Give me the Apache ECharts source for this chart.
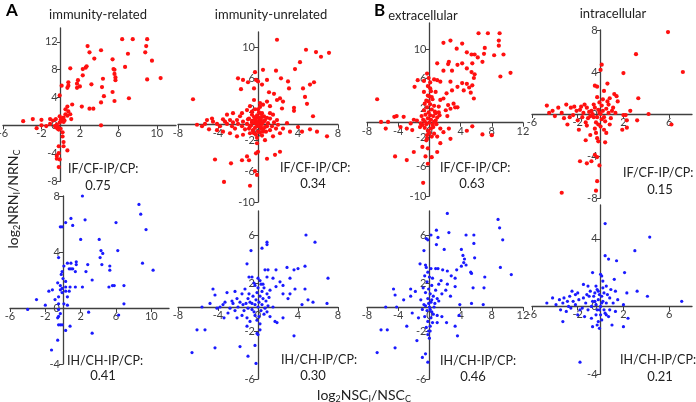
<!DOCTYPE html>
<html>
<head>
<meta charset="utf-8">
<script src="https://cdn.jsdelivr.net/npm/echarts@6/dist/echarts.min.js"></script>
<style>
html, body { margin: 0; padding: 0; background: #fff; }
#chart { width: 696px; height: 402px; }
</style>
</head>
<body>
<div id="chart"></div>
<script>
// log2 NSC ratio (x) vs log2 NRN ratio (y)
const relatedIF = [[2.8,11.4],[3.0,10.5],[4.2,10.8],[6.4,12.4],[7.5,12.4],[9.0,12.4],[8.9,11.4],[8.8,10.5],[7.0,10.3],[9.5,9.3],[5.4,9.5],[3.5,9.6],[6.7,8.4],[5.5,8.1],[5.6,8.0],[5.6,7.4],[5.7,6.9],[5.7,6.5],[9.0,6.6],[10.4,6.8],[4.4,6.7],[4.3,5.5],[2.6,8.3],[2.7,8.5],[2.3,8.1],[2.3,7.2],[1.0,8.2],[3.2,5.9],[1.8,6.5],[1.7,6.0],[1.7,5.4],[0.8,6.2],[0.8,5.7],[0.7,5.4],[0.1,5.7],[2.0,5.6],[-0.1,4.3],[4.5,4.2],[5.4,4.8],[7.1,3.9],[5.6,3.5],[4.2,3.3],[2.2,2.7],[3.0,2.4],[3.4,2.4],[1.2,3.0],[0.7,2.7],[0.8,2.0],[0.5,2.3],[0.5,1.6],[0.7,1.4],[1.0,1.6],[1.1,0.9],[0.3,1.1],[-0.1,1.3],[0.1,0.6],[0.2,0.9],[0.3,0.5],[0.0,0.8],[0.2,1.0],[0.4,0.7],[-0.1,0.4],[-0.5,0.9],[-0.8,0.7],[-1.1,0.9],[-2.0,0.8],[-2.9,0.9],[-3.9,0.6],[-2.5,-0.4],[-2.0,0.0],[-0.3,-0.2],[-0.2,-0.4],[0.0,-0.5],[-0.3,-0.5],[-0.5,-0.3],[-0.2,-0.6],[-0.6,-0.1],[-0.4,0.1],[-1.1,0.2],[-1.5,-0.1],[0.2,-1.0],[0.2,-1.6],[4.2,0.0],[-0.2,-3.0],[-0.2,-4.0],[-0.4,-4.4],[-0.1,-4.9],[0.7,-3.6],[0.3,-3.0],[-0.4,-4.8],[-0.2,-6.0],[0.3,-2.4]];

const unrelatedIF = [[1.9,11.0],[4.8,9.7],[5.8,9.4],[6.3,8.8],[7.1,9.3],[4.2,8.1],[3.7,7.2],[-0.3,6.8],[0.5,7.1],[1.8,7.0],[2.3,6.0],[3.0,5.6],[3.1,4.7],[4.5,4.7],[5.2,5.2],[5.6,5.5],[4.7,3.6],[4.9,2.7],[5.5,1.1],[3.6,2.2],[3.6,1.8],[-2.0,6.0],[-1.5,5.8],[-1.7,4.6],[-1.0,5.5],[-0.2,5.8],[0.0,5.6],[0.4,5.2],[0.9,5.8],[1.1,4.2],[-0.4,4.7],[-0.4,3.2],[-6.5,3.3],[1.6,4.0],[1.9,3.2],[2.2,3.4],[2.5,3.0],[2.4,2.1],[1.2,2.4],[0.9,3.0],[0.5,2.6],[0.2,2.8],[-0.8,2.4],[-1.1,1.9],[1.5,1.3],[1.9,0.6],[2.9,0.2],[2.5,-0.5],[3.2,-0.9],[2.2,-1.1],[4.0,-0.3],[4.4,-0.9],[5.9,-0.9],[6.9,-1.5],[5.2,-0.6],[1.2,-0.7],[1.5,-1.5],[0.7,-2.0],[-0.1,-2.4],[0.0,-3.5],[-0.2,-3.7],[1.7,-3.9],[2.2,-3.5],[0.9,-4.4],[-1.1,-4.1],[-0.9,-4.6],[-1.6,-4.6],[-2.7,-5.0],[-4.3,-4.5],[-3.4,-7.4],[-0.8,-7.9],[-0.3,-6.0],[-0.1,-6.5],
  [-5.6,-0.2],[-5.3,0.1],[-4.6,0.8],[-4.5,0.4],[-4.1,0.1],[-3.8,-0.2],[-3.5,0.7],[-3.3,0.4],[-3.1,0.1],[-2.8,0.6],[-2.6,-0.2],[-2.5,0.3],[-2.3,-0.5],[-2.1,0.6],[-2.0,0.1],[-1.8,1.1],[-1.6,-0.2],[-1.5,0.4],[-1.3,-0.6],[-1.1,0.1],[-1.0,0.7],[-0.8,-0.2],[-0.6,0.3],[-0.5,-0.7],[-0.3,0.2],[-0.2,0.8],[-0.1,-0.2],[0.1,0.5],[0.3,-0.5],[0.4,0.1],[0.5,-0.9],[0.7,0.6],[0.9,-0.2],[1.0,0.2],[1.2,0.8],[1.4,-0.2],[1.6,0.3],[1.8,-0.5],[2.0,0.0],[-0.8,-1.1],[-1.5,-1.3],[-2.1,-1.5],[-2.8,-1.1],[-3.5,-0.9],[-4.1,-0.7],[-4.9,-0.6],[-5.1,0.6],[-6.1,0.0],[-3.1,1.3],[-2.5,1.5],[-1.6,1.5],[-0.6,1.7],[0.4,1.5],[1.2,1.5],
  [0.0,0.0],[0.2,0.3],[-0.2,0.4],[0.3,-0.3],[-0.3,-0.4],[0.1,0.9],[-0.1,1.2],[0.4,1.0],[-0.4,1.0],[0.5,-0.6],[-0.5,-0.8],[0.2,-1.0],[-0.2,-1.3],[0.6,0.4],[-0.6,0.5],[0.1,1.6],[-0.1,-1.7],[0.3,1.4],[0.7,-0.3],[-0.7,-0.1],[0.0,2.0],[0.2,2.3],[-0.3,2.0],[0.6,1.1],[-0.6,1.3],[0.0,-0.9],[0.4,-1.4],[-0.4,-1.1],[0.9,0.9],[-0.9,0.8],[0.8,-0.9],[-0.9,-0.5],[0.1,-0.2],[-0.1,0.2],[0.3,0.6],[-0.3,0.7]];

const extraIF = [[6.3,12.2],[7.5,12.2],[9.0,12.2],[8.9,11.2],[1.8,10.9],[2.7,11.2],[4.2,10.8],[3.5,10.1],[4.8,9.6],[5.4,9.3],[5.8,9.3],[7.1,10.2],[7.0,9.4],[6.2,8.9],[6.8,8.3],[8.3,9.2],[9.5,9.3],[8.9,10.5],[1.0,8.1],[2.5,8.3],[2.4,8.0],[3.6,7.9],[4.2,8.1],[4.8,7.4],[5.5,8.1],[5.4,6.9],[1.8,7.1],[2.9,7.1],[5.8,6.6],[5.7,6.1],[-0.3,6.7],[-0.1,6.1],[0.6,5.9],[1.0,5.8],[-0.7,5.7],[-1.5,5.8],[-1.9,4.9],[1.4,5.6],[2.7,5.6],[4.2,5.4],[4.8,5.3],[5.5,5.1],[5.1,4.8],[4.4,4.4],[5.3,4.1],[5.7,3.3],[3.6,4.9],[2.9,4.4],[2.2,4.0],[1.8,3.3],[1.4,3.1],[0.8,4.2],[0.3,3.5],[-0.2,3.7],[-0.7,4.2],[0.1,4.7],[3.1,2.6],[3.3,2.1],[3.6,2.1],[2.4,2.4],[2.1,1.7],[2.7,1.9],[1.2,2.2],[0.8,1.3],[1.3,1.0],[2.3,0.9],[-6.7,3.2],[-6.2,0.1],[-5.3,0.1],[-5.6,-0.8],[-4.5,0.8],[-4.2,0.9],[-3.3,0.8],[-3.7,-0.6],[-2.9,-0.8],[-2.4,-0.1],[-2.0,0.4],[-2.2,-1.0],[-1.6,0.3],[-1.2,-0.6],[-4.4,-4.6],[-2.9,-5.1],[-2.0,-4.0],[-0.9,-3.3],[-0.4,-2.4],[-0.2,-3.5],[-0.5,-4.6],[-0.2,-5.6],[-0.8,-8.2],[1.0,-4.0],[0.3,-4.7],[1.4,-2.8],[2.7,-2.2],[4.8,-1.1],[6.8,-1.6],[8.0,-1.7],[5.5,-0.5],[1.4,-0.8],[1.8,-1.3],[2.5,-0.8],[1.0,-1.9],[0.6,-1.5],[-0.3,-1.7],[10.4,6.8],[9.1,6.3],
  [0.0,0.0],[0.2,0.4],[-0.2,0.6],[0.4,-0.3],[-0.4,-0.2],[0.1,1.0],[-0.1,1.4],[0.5,0.9],[-0.5,1.1],[0.3,1.8],[-0.3,2.1],[0.1,2.5],[-0.1,2.9],[0.6,2.3],[-0.6,2.6],[0.2,-0.8],[-0.2,-1.1],[0.5,-0.6],[-0.6,-0.7],[0.8,0.3],[-0.8,0.4],[1.0,0.7],[-1.0,0.9],[0.0,-1.4],[0.3,-1.9],[-0.3,-2.2],[0.7,1.5],[-0.7,1.7],[0.4,3.2],[-0.4,3.0],[0.0,3.6],[0.2,4.3],[-0.2,5.0],[0.1,5.5],[0.9,-0.2],[-0.9,-0.3],[0.6,0.1],[-0.6,0.2],[1.2,1.4],[-1.1,-0.1]];

const intraIF = [[5.9,7.8],[3.1,5.7],[7.2,4.0],[2.0,3.9],[0.1,4.7],[0.0,4.2],[-0.5,2.7],[-0.3,2.6],[0.6,2.9],[0.3,2.2],[1.2,1.9],[1.4,1.7],[0.8,1.5],[3.3,1.5],[2.0,-0.1],[4.2,0.0],[6.2,-1.0],[2.3,-0.6],[3.2,-0.6],[2.6,0.3],[2.3,-1.3],[-4.7,0.8],[-4.5,0.1],[-4.2,0.3],[-4.0,-0.2],[-3.7,0.6],[-3.4,0.1],[-3.2,-0.4],[-3.0,0.9],[-2.9,-1.0],[-2.6,0.6],[-2.4,-0.1],[-2.1,0.3],[-2.0,-0.6],[-1.7,0.7],[-1.5,0.1],[-1.3,-0.8],[-1.2,0.6],[-0.9,-0.2],[-0.8,0.3],[-0.6,0.9],[-1.2,-1.1],[-1.9,-1.5],[-1.3,-2.5],[-0.3,-2.3],[-0.2,-2.6],[0.4,-2.7],[-0.4,-1.8],[-0.9,-2.0],[-1.8,-4.5],[-1.2,-4.7],[-0.8,-4.5],[-0.5,-3.9],[-0.3,-4.1],[-0.1,-4.9],[-0.3,-6.4],[-0.4,-7.3],[-3.4,-7.5],[1.9,-1.5],[1.1,0.6],[0.7,0.9],[1.5,1.2],[2.2,-0.1],
  [0.0,0.0],[0.2,0.3],[-0.2,0.4],[0.3,-0.3],[-0.3,-0.3],[0.1,0.8],[-0.1,1.1],[0.5,0.5],[-0.5,0.6],[0.4,-0.7],[-0.4,-0.8],[0.0,-1.2],[0.7,0.1],[-0.7,0.0],[0.9,-0.4],[-1.0,0.2],[0.2,1.4],[-0.3,1.6],[0.6,1.2],[-0.6,-0.3],[0.3,-1.5],[-0.2,-1.0],[1.0,0.3],[-1.1,-0.4],[-1.6,-0.3],[-1.8,0.4],[-2.3,0.7],[-2.7,-0.3],[-1.4,0.9],[0.8,-1.0],[1.3,0.1],[-0.1,0.1],[0.1,-0.5],[-0.5,-1.4],[0.5,-1.8]];

const relatedIH = [[2.2,8.0],[8.6,7.4],[8.8,6.7],[-0.3,5.8],[-0.1,5.8],[0.3,6.1],[0.9,6.4],[1.1,5.9],[2.5,6.3],[6.0,6.1],[9.4,5.6],[2.0,4.9],[4.1,4.9],[4.3,4.1],[4.5,3.9],[6.2,4.1],[4.2,3.6],[4.4,3.1],[-0.5,3.6],[0.1,3.0],[0.5,3.2],[0.9,3.2],[1.5,3.3],[1.5,3.1],[2.8,3.1],[5.3,3.0],[5.3,2.7],[9.0,3.2],[10.2,2.7],[0.7,2.8],[0.9,2.8],[1.1,2.8],[1.4,2.6],[2.6,2.6],[-0.1,2.6],[-0.2,2.4],[0.0,2.1],[3.3,2.0],[0.3,1.9],[-0.6,1.8],[-1.2,1.3],[-1.6,1.2],[-0.3,1.6],[-0.1,1.4],[0.3,1.5],[0.8,1.5],[1.4,1.5],[2.2,1.5],[5.2,1.5],[5.6,1.6],[5.8,1.6],[6.9,1.6],[6.9,0.3],[-0.3,1.3],[-0.1,1.1],[0.3,1.2],[0.7,1.2],[0.5,0.8],[-0.5,0.8],[-0.9,0.6],[-0.5,0.3],[0.1,0.3],[0.5,0.2],[-4.0,-0.1],[-3.0,0.6],[-2.0,0.2],[-0.5,-0.1],[-0.3,-0.4],[-0.5,-0.6],[-0.6,-0.7],[-0.3,-1.2],[-0.5,-1.2],[-0.1,-1.2],[0.3,-1.6],[0.8,-1.3],[2.9,-0.3],[6.3,-0.5],[3.3,-1.8],[-0.6,-2.3],[-1.3,-3.0]];

const unrelatedIH = [[4.8,6.0],[5.7,5.4],[0.9,5.4],[0.9,5.2],[0.4,4.9],[-0.7,4.7],[-1.1,3.6],[-0.9,2.5],[-0.6,2.5],[0.7,3.1],[1.0,3.1],[0.9,2.5],[0.2,2.2],[0.5,1.9],[1.5,2.4],[1.8,3.1],[2.9,3.3],[3.6,3.1],[4.0,3.2],[4.7,3.4],[3.2,2.4],[7.0,2.4],[2.2,2.1],[2.5,1.8],[1.8,1.7],[1.2,1.4],[0.9,1.1],[3.7,1.5],[4.7,1.5],[2.5,1.1],[3.0,0.7],[3.2,1.1],[5.5,0.4],[6.9,0.3],[5.0,0.6],[4.4,0.2],[-1.6,1.1],[-2.1,0.7],[-2.3,1.3],[-3.1,1.2],[-4.5,1.5],[-4.3,1.0],[-4.8,0.3],[-5.6,0.0],[-6.1,-1.9],[-5.3,-1.9],[-6.6,-3.8],[-4.3,-3.4],[-3.4,-0.9],[-1.8,-3.3],[-1.0,-4.1],[-0.3,-3.2],[-0.2,-4.7],[-1.1,-1.6],[-0.1,-2.2],[0.0,-2.3],[0.2,-1.9],[1.2,-0.8],[1.7,-1.2],[1.9,-1.3],[2.5,-0.9],[3.6,-2.4],[-0.8,-1.2],[-1.1,-0.9],[-1.6,-0.7],[-2.1,-0.9],[-3.0,-0.5],[-3.8,0.0],[-4.1,-0.1],[-3.5,0.2],[-2.8,-0.1],[-2.5,0.3],[-2.0,0.0],[-1.5,0.2],[-1.0,-0.1],[-0.6,0.3],[-0.3,0.2],[0.0,0.0],[0.4,0.2],[0.7,-0.1],[1.0,0.1],[1.5,0.0],
  [0.1,0.4],[-0.2,0.6],[0.3,-0.3],[-0.4,-0.4],[0.2,0.9],[-0.1,1.2],[0.5,0.7],[-0.5,0.9],[0.0,1.6],[0.3,1.9],[-0.3,1.8],[0.6,-0.6],[-0.6,-0.2],[0.1,-0.8],[-0.1,-1.1],[0.8,0.5],[-0.8,0.4],[-1.2,0.3],[-1.4,-0.3],[1.1,0.8],[-0.9,1.1],[0.4,1.3],[-0.3,-0.7],[0.2,-1.4],[-1.0,0.7],[-1.8,0.4],[-2.3,-0.3],[-2.6,0.5],[-3.3,0.4],[-1.3,1.5],[0.9,-0.4],[0.0,2.4],[-0.4,2.0],[0.6,1.6]];

const extraIH = [[2.3,7.8],[8.8,7.3],[9.0,6.6],[9.4,5.6],[0.9,6.4],[1.1,5.8],[0.2,6.0],[-0.2,5.6],[-0.4,5.7],[2.5,6.2],[4.7,6.0],[5.7,6.0],[5.7,5.3],[0.9,5.2],[1.9,4.8],[-0.7,4.7],[4.1,4.8],[4.3,4.3],[4.5,4.0],[5.8,4.1],[4.4,3.7],[4.7,3.5],[4.1,3.4],[-1.2,3.6],[-0.5,3.5],[0.8,3.2],[1.1,3.2],[1.7,3.1],[2.3,3.0],[3.5,3.1],[2.8,2.6],[9.1,3.3],[10.5,2.7],[7.1,2.5],[5.3,2.9],[5.4,2.8],[3.3,2.4],[1.5,2.2],[1.2,1.9],[2.3,1.9],[3.3,1.7],[5.6,1.6],[7.0,1.6],[2.1,1.4],[1.6,1.1],[2.7,0.9],[1.0,0.7],[3.9,0.2],[5.4,0.3],[6.9,0.2],[-4.6,1.5],[-4.4,1.0],[-3.3,0.6],[-2.4,0.9],[-1.8,1.3],[-2.4,1.5],[-5.6,0.0],[-4.2,0.0],[-6.2,-1.9],[-5.4,-1.9],[-6.7,-3.8],[-4.4,-3.4],[-2.9,-1.6],[-2.2,-0.5],[-1.4,-0.9],[-1.6,-2.8],[-0.9,-4.2],[-0.2,-4.6],[-0.5,-3.9],[-0.2,-2.3],[0.1,-2.0],[1.0,-1.3],[2.2,-1.3],[3.3,-1.6],[3.6,-2.4],[3.8,-0.7],[1.6,-0.8],[1.0,-0.7],
  [0.0,0.0],[0.2,0.4],[-0.2,0.7],[0.3,-0.4],[-0.3,-0.3],[0.1,1.1],[-0.1,1.5],[0.5,0.9],[-0.5,1.2],[0.3,1.8],[-0.3,2.1],[0.0,2.5],[-0.2,2.9],[0.4,2.4],[-0.6,2.6],[0.2,-0.9],[-0.2,-1.2],[0.5,-0.6],[-0.6,-0.8],[0.7,0.3],[-0.7,0.2],[0.1,-1.6],[-0.1,-2.0],[0.4,-1.3],[-0.4,-1.7],[0.8,1.4],[-0.8,1.6],[0.6,0.0],[-0.9,-0.2],[0.2,3.2],[-0.4,3.3],[0.1,-0.2],[-0.1,0.3],[0.3,0.6],[-0.5,0.1],[1.2,0.5],[-1.1,0.6],[0.0,-2.6]];

const intraIH = [[0.4,4.9],[4.3,4.1],[3.0,3.3],[0.4,3.0],[0.7,2.8],[1.4,2.7],[-0.7,2.0],[0.0,1.9],[0.1,1.8],[1.2,1.6],[2.1,2.0],[0.2,1.5],[-1.5,1.3],[-1.1,1.2],[-0.4,1.2],[0.5,1.2],[1.3,0.9],[2.3,0.8],[3.2,0.9],[4.1,0.6],[7.1,0.3],[-2.5,0.9],[-2.2,0.7],[-3.2,0.5],[-4.2,0.5],[-4.7,0.2],[-3.9,0.1],[-3.3,0.2],[-2.9,0.3],[-2.8,0.0],[-3.5,-0.2],[-2.6,-0.1],[-2.2,0.1],[-1.9,0.4],[-1.6,-0.1],[-1.3,0.2],[-1.0,0.6],[-0.7,0.3],[-0.5,0.8],[-0.3,1.0],[0.3,0.8],[0.8,0.5],[1.1,0.2],[1.5,0.4],[2.0,0.1],[0.8,-0.2],[0.5,-0.5],[-0.4,-0.5],[-0.8,-0.7],[-1.4,-0.6],[-2.0,-0.5],[-3.3,-0.9],[-0.7,-1.2],[-0.1,-1.3],[-0.3,-1.1],[1.0,-1.1],[2.0,-1.2],[2.4,-0.7],[-1.8,-3.3],[-0.2,-0.9],[0.1,-0.8],
  [0.0,0.0],[0.2,0.3],[-0.2,0.4],[0.3,-0.2],[-0.3,-0.2],[0.1,0.6],[-0.1,0.7],[0.5,0.2],[-0.5,0.3],[0.4,-0.4],[-0.4,0.1],[0.0,-0.5],[-0.6,0.6],[0.6,0.7],[-0.8,0.0],[-1.1,-0.2],[-1.5,0.5],[-1.8,-0.2],[-2.4,0.3],[-2.0,0.8],[0.2,1.1],[-0.2,0.9],[0.7,-0.6],[-0.9,0.9],[-1.2,0.7],[-2.7,0.6],[-3.0,-0.3],[-3.6,0.4],[1.3,-0.3],[0.9,1.0],[-0.1,-0.2],[0.1,0.2]];

const panelTitles = ['immunity-related', 'immunity-unrelated', 'extracellular', 'intracellular'];
const ratioLabels = ['0.75', '0.34', '0.63', '0.15', '0.41', '0.30', '0.46', '0.21'];

// tick labels per panel (top row then bottom row)
const xTicks = [
  [-6, -2, 2, 6, 10], [-8, -4, 0, 4, 8], [-8, -4, 0, 4, 8, 12], [-6, -2, 2, 6],
  [-6, -2, 2, 6, 10], [-8, -4, 0, 4, 8], [-8, -4, 0, 4, 8, 12], [-6, -2, 2, 6]
];
const yTicks = [
  [-8, -4, 0, 4, 8, 12], [-10, -6, -2, 2, 6, 10], [-10, -6, -2, 2, 6, 10], [-8, -4, 0, 4, 8],
  [-4, 0, 4, 8], [-6, -2, 2, 6], [-6, -2, 2, 6], [-4, 0, 4]
];
const xRange = [[-6, 12], [-8, 8], [-8, 12], [-6, 8], [-6, 12], [-8, 8], [-8, 12], [-6, 8]];
const yRange = [[-8, 14], [-10, 12], [-10, 13.6], [-8, 8], [-4, 8], [-6, 8], [-6, 8], [-4, 6]];

const seriesData = [relatedIF, unrelatedIF, extraIF, intraIF, relatedIH, unrelatedIH, extraIH, intraIH];

// pixel boxes of the plot areas
const boxes = [
  [3, 28, 173, 153], [178, 32, 160, 170], [367, 23, 156, 173], [532, 30, 160, 168],
  [10, 196, 159, 168], [178, 211, 160, 168], [367, 211, 156, 168], [532, 205, 160, 169]
];

const font = 'Lato, "Noto Sans", sans-serif';
const axisColor = '#404040';

let chart = echarts.init(document.getElementById('chart'));

let grids = [], xAxes = [], yAxes = [], series = [];
for (let i = 0; i < 8; i++) {
  let b = boxes[i];
  // axes cross at the origin: shift each axis into the plot by the offset of zero
  let xOff = -(0 - yRange[i][0]) / (yRange[i][1] - yRange[i][0]) * b[3];
  let yOff = -(0 - xRange[i][0]) / (xRange[i][1] - xRange[i][0]) * b[2];
  grids.push({ left: b[0], top: b[1], width: b[2], height: b[3], containLabel: false, outerBoundsMode: 'none' });
  xAxes.push({
    gridIndex: i, type: 'value', position: 'bottom', offset: xOff,
    min: xRange[i][0], max: xRange[i][1],
    axisLine: { onZero: false, lineStyle: { color: axisColor, width: 1.3 } },
    axisTick: { length: 4, customValues: xTicks[i], lineStyle: { color: axisColor } },
    axisLabel: { customValues: xTicks[i], margin: 3, fontSize: 11, color: axisColor, fontFamily: font },
    splitLine: { show: false }
  });
  yAxes.push({
    gridIndex: i, type: 'value', position: 'left', offset: yOff,
    min: yRange[i][0], max: yRange[i][1],
    axisLine: { onZero: false, lineStyle: { color: axisColor, width: 1.3 } },
    axisTick: { length: 4, customValues: yTicks[i], lineStyle: { color: axisColor } },
    axisLabel: { customValues: yTicks[i], margin: 3, fontSize: 11, color: axisColor, fontFamily: font },
    splitLine: { show: false }
  });
  let top = i < 4;
  series.push({
    type: 'scatter', xAxisIndex: i, yAxisIndex: i,
    data: seriesData[i],
    symbolSize: top ? 4.2 : 3.2,
    itemStyle: { color: top ? '#ff1010' : '#1a1aff', opacity: 1 },
    silent: true
  });
}

// panel titles and ratio text
const titlePos = [[98, 15], [271, 15], [423, 16], [613, 14]];
const ratioNamePos = [[68, 169], [280, 168], [440, 168], [623, 173], [67, 361], [281, 360], [440, 361], [620, 360]];
const ratioValPos = [[98, 186], [313, 184], [472, 184], [660, 190], [103, 376], [313, 376], [473, 377], [660, 377]];

let graphics = [];
graphics.push({ type: 'text', left: 6, top: 2, style: { text: 'A', font: 'bold 17px ' + font, fill: '#000' } });
graphics.push({ type: 'text', left: 374, top: 2, style: { text: 'B', font: 'bold 17px ' + font, fill: '#000' } });
for (let i = 0; i < 4; i++) {
  graphics.push({ type: 'text', x: titlePos[i][0], y: titlePos[i][1],
    style: { text: panelTitles[i], font: '13px ' + font, fill: '#222', align: 'center', verticalAlign: 'middle' } });
}
for (let i = 0; i < 8; i++) {
  graphics.push({ type: 'text', x: ratioNamePos[i][0], y: ratioNamePos[i][1],
    style: { text: i < 4 ? 'IF/CF-IP/CP:' : 'IH/CH-IP/CP:', font: '12.5px ' + font, fill: '#222', align: 'left', verticalAlign: 'middle' } });
  graphics.push({ type: 'text', x: ratioValPos[i][0], y: ratioValPos[i][1],
    style: { text: ratioLabels[i], font: '13px ' + font, fill: '#222', align: 'center', verticalAlign: 'middle' } });
}
const richStyle = {
  n: { fontSize: 14, fontFamily: font, fill: '#222' },
  s: { fontSize: 9, fontFamily: font, fill: '#222', padding: [8, 0, 0, 0] }
};
graphics.push({ type: 'text', x: 13, y: 199, rotation: Math.PI / 2,
  style: { text: '{n|log}{s|2}{n|NRN}{s|I}{n|/NRN}{s|C}', rich: richStyle, align: 'center', verticalAlign: 'middle' } });
graphics.push({ type: 'text', x: 364, y: 395,
  style: { text: '{n|log}{s|2}{n|NSC}{s|I}{n|/NSC}{s|C}', rich: richStyle, align: 'center', verticalAlign: 'middle' } });

chart.setOption({
  animation: false,
  grid: grids,
  xAxis: xAxes,
  yAxis: yAxes,
  series: series,
  graphic: graphics
});
</script>
</body>
</html>
